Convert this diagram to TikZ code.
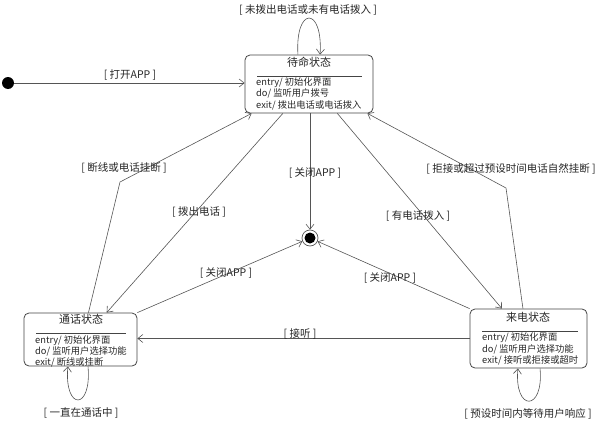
\documentclass[tikz,border=0pt]{standalone}
\usepackage{fontspec}
\setmainfont{Noto Sans CJK SC}
\usetikzlibrary{arrows.meta,calc}
\definecolor{linec}{HTML}{555555}
\definecolor{boxc}{HTML}{444444}
\definecolor{txt}{HTML}{262626}
\begin{document}
\begin{tikzpicture}[x=1pt,y=-1pt,
  lbl/.style={font=\fontsize{10.5}{12}\selectfont, text=txt, inner sep=0pt},
  ttl/.style={font=\fontsize{11}{13}\selectfont, text=txt, inner sep=0pt},
  bodyline/.style={font=\fontsize{9.3}{10}\selectfont, text=txt, inner sep=0pt, anchor=west, text height=7.8pt, text depth=1.6pt},
  statebox/.style={draw=boxc, line width=0.8pt, rounded corners=5pt, inner sep=0pt},
  sepline/.style={draw=boxc, line width=0.8pt},
  conn/.style={draw=linec, line width=0.6pt, -{Straight Barb[length=5pt,width=8pt]}},
]
\useasboundingbox (0,0) rectangle (600,423);

% initial and final nodes
\node[circle, fill=black, minimum size=12pt, inner sep=0pt] (start) at (8,83) {};
\node[circle, draw=linec, line width=0.7pt, minimum size=16pt, inner sep=0pt] (final) at (310,238) {};
\node[circle, fill=black, minimum size=11pt, inner sep=0pt] (finalIn) at (final) {};

% standby state
\node[statebox, minimum width=128pt, minimum height=58pt] (standby) at (309,84) {};
\node[ttl] (standbyT) at (309,62) {待命状态};
\draw[sepline] (257,76) -- (362,76);
\node[bodyline] (standbyL1) at (256,82) {entry/ 初始化界面};
\node[bodyline] (standbyL2) at (256,93.5) {do/ 监听用户拨号};
\node[bodyline] (standbyL3) at (256,105) {exit/ 拨出电话或电话拨入};

% call state
\node[statebox, minimum width=113pt, minimum height=53pt] (call) at (80.5,339.5) {};
\node[ttl] (callT) at (81,319) {通话状态};
\draw[sepline] (36,333) -- (126,333);
\node[bodyline] (callL1) at (35,340.5) {entry/ 初始化界面};
\node[bodyline] (callL2) at (35,351.5) {do/ 监听用户选择功能};
\node[bodyline] (callL3) at (35,362) {exit/ 断线或挂断};

% incoming state
\node[statebox, minimum width=117pt, minimum height=59pt] (incoming) at (528.5,338.5) {};
\node[ttl] (incomingT) at (528,317) {来电状态};
\draw[sepline] (482,331) -- (578,331);
\node[bodyline] (incL1) at (482,337.5) {entry/ 初始化界面};
\node[bodyline] (incL2) at (482,349) {do/ 监听用户选择功能};
\node[bodyline] (incL3) at (482,360) {exit/ 接听或拒接或超时};

% helper coordinates
\coordinate (bendL) at (120,182);
\coordinate (bendR) at (506,188);

% connectors
\draw[conn] (start.east) -- (standby.west |- start);
\draw[conn] ($(standby.north west)!0.414!(standby.north east)$) .. controls (295,6) and (323,6) .. ($(standby.north west)!0.586!(standby.north east)$);
\draw[conn] (standby.south -| final) -- (final.north);
\draw[conn] ($(standby.south west)!0.297!(standby.south east)$) -- ($(call.north west)!0.73!(call.north east)$);
\draw[conn] ($(call.north west)!0.57!(call.north east)$) -- (bendL) -- ($(standby.south west)+(7,0)$);
\draw[conn] ($(standby.south west)!0.72!(standby.south east)$) -- ($(incoming.north west)!0.274!(incoming.north east)$);
\draw[conn] ($(incoming.north west)!0.453!(incoming.north east)$) -- (bendR) -- ($(standby.south east)+(-6,0)$);
\draw[conn] (incoming.west) -- (call.east |- incoming.west);
\draw[conn] (call.north east) -- (final);
\draw[conn] (incoming.north west) -- (final);
\draw[conn] ($(call.south west)!0.566!(call.south east)$) .. controls (92,411) and (64,411) .. ($(call.south west)!0.389!(call.south east)$);
\draw[conn] ($(incoming.south west)!0.598!(incoming.south east)$) .. controls (544,412) and (514,412) .. ($(incoming.south west)!0.41!(incoming.south east)$);

% labels
\node[lbl] (lbLoopS) at (308,10) {[ 未拨出电话或未有电话拨入 ]};
\node[lbl] (lbOpen) at (130,75) {[ 打开APP ]};
\node[lbl] (lbHang) at (124,168) {[ 断线或电话挂断 ]};
\node[lbl] (lbDial) at (199,212) {[ 拨出电话 ]};
\node[lbl] (lbCloseC) at (315,173) {[ 关闭APP ]};
\node[lbl] (lbCloseL) at (226,273) {[ 关闭APP ]};
\node[lbl] (lbCloseR) at (390,278) {[ 关闭APP ]};
\node[lbl] (lbIncoming) at (418,216) {[ 有电话拨入 ]};
\node[lbl] (lbReject) at (511,169) {[ 拒接或超过预设时间电话自然挂断 ]};
\node[lbl] (lbAnswer) at (300,334) {[ 接听 ]};
\node[lbl] (lbLoopC) at (81,413) {[ 一直在通话中 ]};
\node[lbl] (lbLoopI) at (528,414) {[ 预设时间内等待用户响应 ]};
\end{tikzpicture}
\end{document}
